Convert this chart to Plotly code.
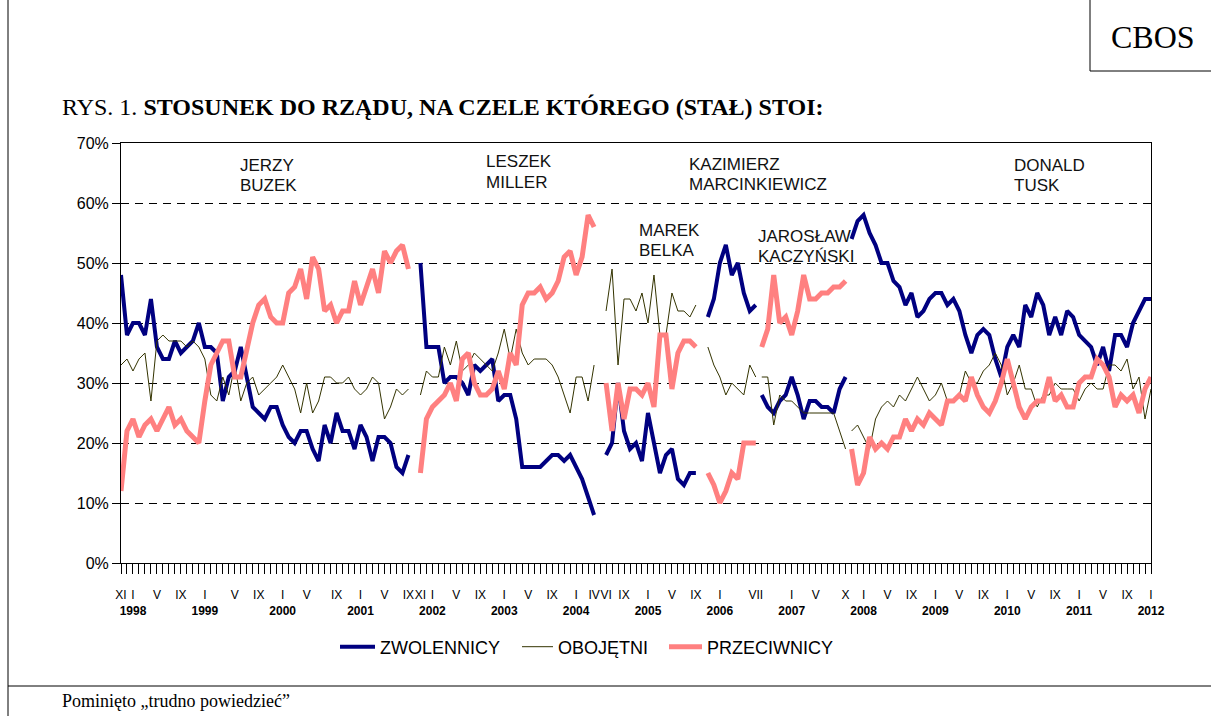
import plotly.graph_objects as go

# ---------------- DATA ----------------
# Category axis: one category per survey month, index 0 = XI 1997, index 172 = I 2012
N_CAT = 173

month_pos = [0, 2, 6, 10, 14, 19, 23, 27, 31, 36, 40, 44, 48, 50, 52, 56, 60, 64, 68, 72,
             76, 79, 81, 84, 88, 92, 96, 100, 106, 112, 116, 121, 124, 128, 132, 136, 140,
             144, 148, 152, 156, 160, 164, 168, 172]
month_lab = ["XI", "I", "V", "IX", "I", "V", "IX", "I", "V", "IX", "I", "V", "IX", "XI", "I", "V",
             "IX", "I", "V", "IX", "I", "IV", "VI", "IX", "I", "V", "IX", "I", "VII", "I", "V", "X",
             "I", "V", "IX", "I", "V", "IX", "I", "V", "IX", "I", "V", "IX", "I"]
year_pos = [2, 14, 27, 40, 52, 64, 76, 88, 100, 112, 124, 136, 148, 160, 172]
year_lab = ["1998", "1999", "2000", "2001", "2002", "2003", "2004", "2005", "2006", "2007",
            "2008", "2009", "2010", "2011", "2012"]

# Governments: first category index and monthly values (%)
buzek_start = 0
buzek_zw = [48, 38, 40, 40, 38, 44, 36, 34, 34, 37, 35, 36, 37, 40, 36, 36, 35, 27, 31, 32, 36, 31,
            26, 25, 24, 26, 26, 23, 21, 20, 22, 22, 19, 17, 23, 20, 25, 22, 22, 19, 23, 21, 17, 21,
            21, 20, 16, 15, 18]
buzek_ob = [33, 34, 32, 34, 35, 27, 37, 38, 37, 37, 37, 36, 37, 36, 34, 28, 27, 31, 28, 33, 27, 30,
            31, 28, 29, 30, 31, 33, 31, 29, 25, 30, 25, 27, 31, 31, 30, 30, 31, 29, 28, 29, 31, 30,
            24, 26, 29, 28, 29]
buzek_pr = [12, 22, 24, 21, 23, 24, 22, 24, 26, 23, 24, 22, 21, 20, 27, 33, 35, 37, 37, 31, 31, 36,
            40, 43, 44, 41, 40, 40, 45, 46, 49, 44, 51, 49, 42, 43, 40, 42, 42, 47, 43, 46, 49, 45,
            52, 50, 52, 53, 49]

miller_start = 50
miller_zw = [50, 36, 36, 36, 30, 31, 31, 30, 28, 33, 32, 33, 34, 27, 28, 28, 24, 16, 16, 16, 16, 17,
             18, 18, 17, 18, 16, 14, 11, 8]
miller_ob = [28, 32, 31, 31, 36, 33, 37, 32, 33, 35, 34, 33, 32, 35, 39, 34, 39, 35, 33, 34, 34, 34,
             33, 31, 28, 25, 31, 31, 27, 33]
miller_pr = [15, 24, 26, 27, 28, 30, 27, 34, 35, 30, 28, 28, 29, 32, 29, 35, 33, 43, 45, 45, 46, 44,
             45, 47, 51, 52, 48, 51, 58, 56]

belka_start = 81
belka_zw = [18, 20, 30, 22, 19, 20, 17, 25, 20, 15, 18, 19, 14, 13, 15, 15]
belka_ob = [42, 49, 33, 44, 44, 42, 45, 40, 48, 38, 38, 45, 42, 42, 41, 43]
belka_pr = [30, 22, 30, 24, 29, 29, 28, 30, 26, 38, 38, 29, 35, 37, 37, 36]

marc_start = 98
marc_zw = [41, 44, 50, 53, 48, 50, 45, 42, 43]
marc_ob = [36, 33, 31, 28, 30, 29, 28, 33, 31]
marc_pr = [15, 13, 10, 12, 15, 14, 20, 20, 20]

kacz_start = 107
kacz_zw = [28, 26, 25, 27, 28, 31, 28, 24, 27, 27, 26, 26, 25, 29, 31]
kacz_ob = [31, 31, 23, 28, 27, 27, 26, 25, 25, 25, 25, 25, 25, 22, 19]
kacz_pr = [36, 39, 48, 40, 41, 38, 42, 48, 44, 44, 45, 45, 46, 46, 47]

tusk_start = 122
tusk_zw = [54, 57, 58, 55, 53, 50, 50, 47, 46, 43, 45, 41, 42, 44, 45, 45, 43, 44, 42, 38, 35, 38,
           39, 38, 34, 31, 36, 38, 36, 43, 41, 45, 43, 38, 41, 38, 42, 41, 38, 37, 36, 33, 36, 32,
           38, 38, 36, 40, 42, 44, 44]
tusk_ob = [22, 23, 21, 19, 24, 26, 27, 26, 28, 27, 29, 31, 29, 27, 28, 30, 27, 27, 28, 32, 30, 30,
           32, 33, 35, 33, 28, 30, 33, 29, 29, 26, 28, 28, 30, 29, 29, 29, 27, 29, 30, 29, 29, 33,
           33, 32, 34, 29, 31, 24, 29]
tusk_pr = [19, 13, 15, 21, 19, 20, 19, 21, 21, 24, 22, 24, 23, 25, 24, 23, 27, 27, 28, 27, 31, 28,
           26, 25, 27, 30, 34, 30, 26, 24, 26, 27, 27, 31, 27, 28, 26, 26, 30, 31, 31, 34, 33, 31,
           26, 28, 27, 28, 25, 29, 31]

gov_starts = [buzek_start, miller_start, belka_start, marc_start, kacz_start, tusk_start]
series_zw = [buzek_zw, miller_zw, belka_zw, marc_zw, kacz_zw, tusk_zw]
series_ob = [buzek_ob, miller_ob, belka_ob, marc_ob, kacz_ob, tusk_ob]
series_pr = [buzek_pr, miller_pr, belka_pr, marc_pr, kacz_pr, tusk_pr]

gov_names = [("JERZY", "BUZEK"), ("LESZEK", "MILLER"), ("MAREK", "BELKA"),
             ("KAZIMIERZ", "MARCINKIEWICZ"), ("JAROSŁAW", "KACZYŃSKI"), ("DONALD", "TUSK")]

# ---------------- LAYOUT GEOMETRY ----------------
W, H = 1211, 716
PL, PR, PT, PB = 121, 1151, 143, 563   # plot area in pixels


def px(x, y):
    return (x - PL) / (PR - PL), (PB - y) / (PB - PT)


def build(segs):
    xs, ys = [], []
    for st, vals in zip(gov_starts, segs):
        xs += list(range(st, st + len(vals))) + [None]
        ys += list(vals) + [None]
    return xs, ys


SANS = "Liberation Sans, Arial, sans-serif"
SERIF = "Liberation Serif, Times New Roman, serif"

fig = go.Figure()
styles = [("ZWOLENNICY", series_zw, "#000080", 4, "legend", 335, 35),
          ("OBOJĘTNI", series_ob, "#333300", 1, "legend2", 517, 31),
          ("PRZECIWNICY", series_pr, "#FF8080", 5, "legend3", 664, 33)]
legend_defs = {}
for name, segs, col, wdt, lg, lx, iw in styles:
    xs, ys = build(segs)
    fig.add_trace(go.Scatter(x=xs, y=ys, mode="lines", name=name, legend=lg,
                             line=dict(color=col, width=wdt), connectgaps=False))
    legend_defs[lg] = dict(orientation="h", x=px(lx, 0)[0], xanchor="left",
                           y=px(0, 647)[1], yanchor="middle",
                           font=dict(family=SANS, size=18, color="black"),
                           bgcolor="rgba(0,0,0,0)", itemwidth=iw)

ticktext = [""] * N_CAT
for p, l in zip(month_pos, month_lab):
    ticktext[p] = l
for p, yl in zip(year_pos, year_lab):
    ticktext[p] += "<br><b>" + yl + "</b>"

fig.update_layout(
    width=W, height=H,
    margin=dict(l=PL, r=W - PR, t=PT, b=H - PB, pad=0),
    paper_bgcolor="white", plot_bgcolor="white",
    font=dict(family=SANS, color="black"),
    showlegend=True,
    xaxis=dict(range=[0, N_CAT - 1], tickmode="array", tickvals=list(range(N_CAT)),
               ticktext=ticktext, tickangle=0, ticks="outside", ticklen=10,
               tickcolor="black", tickwidth=1, showline=True, linecolor="black",
               linewidth=1, mirror=True, showgrid=False, zeroline=False,
               tickfont=dict(family=SANS, size=12, color="black"),
               ticklabelstandoff=11),
    yaxis=dict(range=[0, 70], tickmode="linear", tick0=0, dtick=10, ticksuffix="%",
               ticks="outside", ticklen=8, tickcolor="black", showline=True,
               linecolor="black", linewidth=1, mirror=True, showgrid=True,
               gridcolor="black", gridwidth=1, griddash="8px,6px", zeroline=False,
               tickfont=dict(family=SANS, size=16, color="black")),
)
fig.update_layout(**legend_defs)

# frame lines and CBOS box
shapes = []
x0, y0 = px(8, -2)
x1, y1 = px(8, H + 2)
shapes.append(dict(type="line", xref="paper", yref="paper", x0=x0, y0=y0, x1=x1, y1=y1,
                   line=dict(color="black", width=1)))
x0, y0 = px(8, 686)
x1, _ = px(W + 2, 686)
shapes.append(dict(type="line", xref="paper", yref="paper", x0=x0, y0=y0, x1=x1, y1=y0,
                   line=dict(color="black", width=1)))
bx0, by0 = px(1090, 71)
bx1, by1 = px(W + 2, -2)
shapes.append(dict(type="rect", xref="paper", yref="paper", x0=bx0, y0=by0, x1=bx1, y1=by1,
                   line=dict(color="black", width=1), fillcolor="rgba(0,0,0,0)"))
fig.update_layout(shapes=shapes)

ann = []
cx, cy = px(1153, 37)
ann.append(dict(x=cx, y=cy, xref="paper", yref="paper", text="CBOS", showarrow=False,
                xanchor="center", yanchor="middle",
                font=dict(family=SERIF, size=32, color="black")))
tx, ty = px(60, 107)
ann.append(dict(x=tx, y=ty, xref="paper", yref="paper",
                text="RYS. 1. <b>STOSUNEK DO RZĄDU, NA CZELE KTÓREGO (STAŁ) STOI:</b>",
                showarrow=False, xanchor="left", yanchor="middle",
                font=dict(family=SERIF, size=24, color="black")))
fx, fy = px(60, 701)
ann.append(dict(x=fx, y=fy, xref="paper", yref="paper", text="Pominięto „trudno powiedzieć”",
                showarrow=False, xanchor="left", yanchor="middle",
                font=dict(family=SERIF, size=18, color="black")))

name_pos = [(240, 165), (486, 162), (639, 230), (689, 164), (758, 236), (1014, 165)]
for (l1, l2), (nx, ny) in zip(gov_names, name_pos):
    for k, line in enumerate((l1, l2)):
        ax_, ay_ = px(nx - 2, ny + 20 * k)
        ann.append(dict(x=ax_, y=ay_, xref="paper", yref="paper", text=line,
                        showarrow=False, xanchor="left", yanchor="middle",
                        font=dict(family=SANS, size=17, color="#111111")))
fig.update_layout(annotations=ann)

fig.write_html("out.html", config={"displayModeBar": False},
               post_script="document.body.style.margin='0px';")
